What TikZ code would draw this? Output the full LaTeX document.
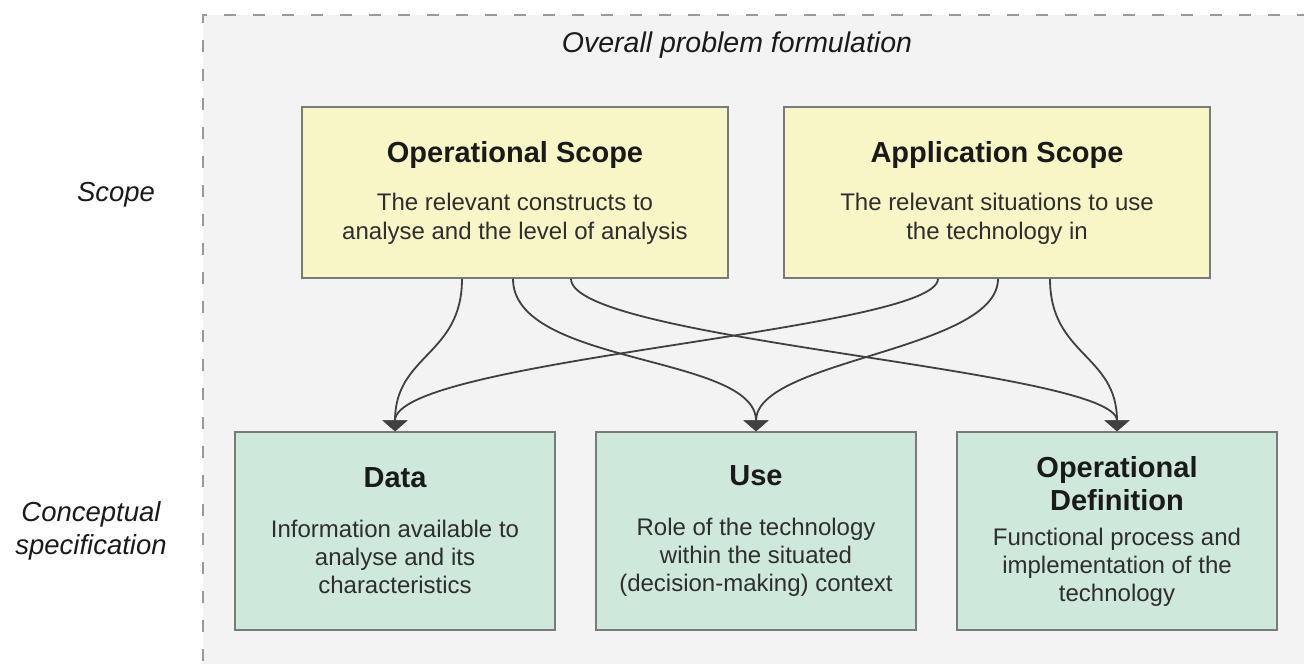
\documentclass[tikz,border=0pt]{standalone}
\usepackage{fontspec}
\setmainfont{Liberation Sans}
\usetikzlibrary{arrows.meta,calc}
\definecolor{bgcol}{HTML}{F3F3F3}
\definecolor{dashcol}{HTML}{999999}
\definecolor{yelcol}{HTML}{F8F5C6}
\definecolor{grecol}{HTML}{CFE8DC}
\definecolor{bordcol}{HTML}{7A7A7A}
\definecolor{arrcol}{HTML}{404040}
\definecolor{txtcol}{HTML}{1A1A1A}
\definecolor{bodycol}{HTML}{2E2E2E}
\tikzset{
  frameline/.style={draw=dashcol, line width=2pt, dash pattern=on 12pt off 17pt},
  scopebox/.style={draw=bordcol, line width=1.5pt, fill=yelcol, minimum width=426pt, minimum height=171pt, inner sep=0pt, align=center, text=bodycol, font=\fontsize{24}{28.5}\selectfont},
  specbox/.style={draw=bordcol, line width=1.5pt, fill=grecol, minimum width=320pt, minimum height=198pt, inner sep=0pt, align=center, text=bodycol, font=\fontsize{24}{28}\selectfont},
  sidelabel/.style={align=center, text=txtcol, font=\fontsize{27.5}{33}\selectfont\itshape, inner sep=0pt},
  conn/.style={draw=arrcol, line width=1.8pt, -{Triangle[width=25pt,length=11pt]}},
}
\newcommand{\boxtitle}[1]{{\color{txtcol}\fontsize{29}{33}\selectfont\bfseries #1}}
\begin{document}
\begin{tikzpicture}[x=1pt,y=-1pt]
\useasboundingbox (0,0) rectangle (1304,664);
\begin{scope}
  \clip (0,0) rectangle (1304,664);
  \fill[bgcol] (203,15) rectangle (1330,690);
  \draw[frameline] (203,690) -- (203,15) -- (1330,15);
\end{scope}

\node[text=txtcol, font=\fontsize{28.5}{33}\selectfont\itshape, inner sep=0pt] (title) at (737,45) {Overall problem formulation};

\node[sidelabel] (lscope) at (116,195) {Scope};
\node[sidelabel] (lspec) at (91,531) {Conceptual\\specification};

\node[scopebox] (ops) at (515,192.5) {\boxtitle{Operational Scope}\\[20pt]The relevant constructs to\\analyse and the level of analysis};
\node[scopebox] (aps) at (997,192.5) {\boxtitle{Application Scope}\\[20pt]The relevant situations to use\\the technology in};

\node[specbox] (data) at (395,531) {\boxtitle{Data}\\[22pt]Information available to\\analyse and its\\characteristics};
\node[specbox] (use) at (756,531) {\boxtitle{Use}\\[22pt]Role of the technology\\within the situated\\(decision-making) context};
\node[specbox] (opdef) at (1117,531) {\boxtitle{Operational}\\[5pt]\boxtitle{Definition}\\[7pt]Functional process and\\implementation of the\\technology};

\draw[conn] ([xshift=-53pt]ops.south) .. controls +(0,77) and +(0,-77) .. (data.north);
\draw[conn] ([xshift=-2pt]ops.south) .. controls +(0,87) and +(0,-77) .. (use.north);
\draw[conn] ([xshift=56pt]ops.south) .. controls +(0,62) and +(0,-62) .. (opdef.north);
\draw[conn] ([xshift=-59pt]aps.south) .. controls +(0,52) and +(0,-72) .. (data.north);
\draw[conn] ([xshift=1pt]aps.south) .. controls +(0,72) and +(0,-72) .. (use.north);
\draw[conn] ([xshift=53pt]aps.south) .. controls +(0,77) and +(0,-77) .. (opdef.north);
\end{tikzpicture}
\end{document}
